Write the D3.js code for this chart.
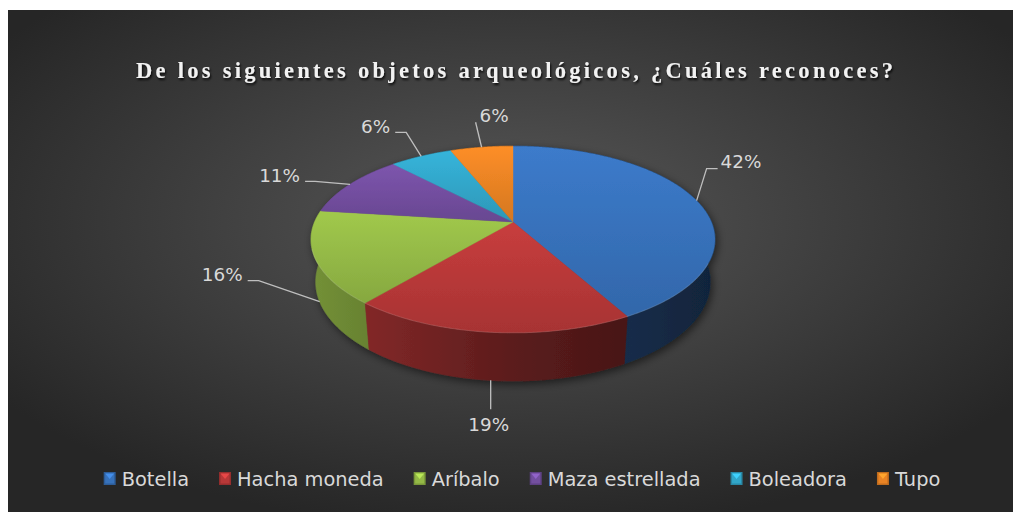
<!DOCTYPE html>
<html>
<head>
<meta charset="utf-8">
<script src="https://cdn.jsdelivr.net/npm/d3@7"></script>
<style>
  html, body { margin: 0; padding: 0; background: #ffffff; }
  svg { display: block; }
</style>
</head>
<body>
<svg id="chart" width="1013" height="512"></svg>
<script>
// ---------------- data ----------------
const title = "De los siguientes objetos arqueológicos, ¿Cuáles reconoces?";
const categories = ["Botella", "Hacha moneda", "Aríbalo", "Maza estrellada", "Boleadora", "Tupo"];
const values = [42, 19, 16, 11, 6, 6];
const valueLabels = ["42%", "19%", "16%", "11%", "6%", "6%"];
const colors = ["#3a78c5", "#c23b3b", "#9cc34a", "#7953a8", "#34afd4", "#f68a26"];

// ---------------- layout ----------------
const W = 1013, H = 512;
const svg = d3.select("#chart");
const defs = svg.append("defs");

// background
const bg = defs.append("radialGradient").attr("id", "bgGrad")
  .attr("cx", "0.5").attr("cy", "0.42").attr("r", "0.62");
bg.append("stop").attr("offset", "0").attr("stop-color", "#585858");
bg.append("stop").attr("offset", "1").attr("stop-color", "#262626");
svg.append("rect").attr("x", 8).attr("y", 10).attr("width", W - 8).attr("height", H - 10)
  .attr("fill", "url(#bgGrad)");

// filters
const ts = defs.append("filter").attr("id", "titleShadow").attr("x", "-5%").attr("y", "-50%").attr("width", "110%").attr("height", "200%");
ts.append("feDropShadow").attr("dx", 1).attr("dy", 2).attr("stdDeviation", 1.2)
  .attr("flood-color", "#000").attr("flood-opacity", 0.85);
const ps = defs.append("filter").attr("id", "pieShadow").attr("x", "-10%").attr("y", "-10%").attr("width", "120%").attr("height", "130%");
ps.append("feDropShadow").attr("dx", 2).attr("dy", 3).attr("stdDeviation", 4)
  .attr("flood-color", "#000").attr("flood-opacity", 0.55);

// title
const titleEl = svg.append("text")
  .attr("x", 136).attr("y", 78)
  .attr("font-family", "'Liberation Serif', 'Times New Roman', serif")
  .attr("font-weight", "bold").attr("font-size", 22.5)
  .attr("fill", "#f2f2f2")
  .attr("filter", "url(#titleShadow)")
  .text(title);
{
  const w0 = titleEl.node().getComputedTextLength();
  const n = title.length;
  const ls = (757 - w0) / (n - 1);
  titleEl.attr("letter-spacing", ls);
}

// ---------------- 3D pie projection ----------------
const R = 198.4, phi = 27 * Math.PI / 180, Dcam = 944, depth = 48;
const cx = 513, cy = 222;
const sinP = Math.sin(phi), cosP = Math.cos(phi);
function proj(theta, h) {
  const X = R * Math.sin(theta);
  const Y = -R * Math.cos(theta);
  const v = Y * sinP - h * cosP;
  const w = Y * cosP + h * sinP;
  const s = Dcam / (Dcam - w);
  return [cx + X * s, cy + v * s];
}
function arcPts(a0, a1, h) {
  const n = Math.max(2, Math.ceil(Math.abs(a1 - a0) / 0.01));
  const pts = [];
  for (let i = 0; i <= n; i++) pts.push(proj(a0 + (a1 - a0) * i / n, h));
  return pts;
}
const line = d3.line();

const pie = d3.pie().sort(null).startAngle(0).endAngle(2 * Math.PI);
const arcs = pie(values).map((d, i) => ({ ...d, i, mid: (d.startAngle + d.endAngle) / 2 }));

// side gradients (horizontal, lighter on left)
const sideStops = [[0, 0.74], [0.5, 0.47], [1, 0.30]];
arcs.forEach(d => {
  const c = d3.rgb(colors[d.i]);
  const g = defs.append("linearGradient").attr("id", "side" + d.i)
    .attr("gradientUnits", "userSpaceOnUse")
    .attr("x1", cx - R).attr("y1", 0).attr("x2", cx + R).attr("y2", 0);
  sideStops.forEach(([o, f]) => {
    g.append("stop").attr("offset", o)
      .attr("stop-color", d3.rgb(c.r * f, c.g * f, c.b * f).formatHex());
  });
  const t = defs.append("linearGradient").attr("id", "top" + d.i)
    .attr("x1", 0).attr("y1", 0).attr("x2", 0).attr("y2", 1);
  t.append("stop").attr("offset", 0).attr("stop-color", c.brighter(0.08).formatHex());
  t.append("stop").attr("offset", 1).attr("stop-color", c.darker(0.42).formatHex());
});

const pieG = svg.append("g").attr("filter", "url(#pieShadow)");

// sides: back to front
const sideOrder = arcs.slice().sort((a, b) => Math.cos(b.mid) - Math.cos(a.mid));
sideOrder.forEach(d => {
  const top = arcPts(d.startAngle, d.endAngle, 0);
  const bot = arcPts(d.startAngle, d.endAngle, -depth).reverse();
  pieG.append("path")
    .attr("d", line(top.concat(bot)) + "Z")
    .attr("fill", `url(#side${d.i})`)
    .attr("stroke", `url(#side${d.i})`).attr("stroke-width", 0.6);
});

// top faces
arcs.forEach(d => {
  const pts = [[cx, cy]].concat(arcPts(d.startAngle, d.endAngle, 0));
  pieG.append("path")
    .attr("d", line(pts) + "Z")
    .attr("fill", `url(#top${d.i})`)
    .attr("stroke", `url(#top${d.i})`).attr("stroke-width", 0.4);
});

// subtle highlight rim on the front edge of the top face
const kk = R * cosP / Dcam;
const silA = Math.acos(-kk);
svg.append("path")
  .attr("d", line(arcPts(silA + 0.25, 2 * Math.PI - silA - 0.1, 0)))
  .attr("fill", "none").attr("stroke", "#ffffff").attr("stroke-opacity", 0.13)
  .attr("stroke-width", 1.1);

// ---------------- data labels ----------------
const labelLayout = [
  { elbow: [10, -32], run: 11, side: "right" },
  { elbow: [0, 29], run: 0, side: "below" },
  { elbow: [-61, -21], run: -11, side: "left" },
  { elbow: [-35, -3], run: -10, side: "left" },
  { elbow: [-15, -24], run: -11, side: "left" },
  { elbow: [-6, -25], run: 0, side: "above" }
];
const labelFont = "'DejaVu Sans', Verdana, sans-serif";
arcs.forEach(d => {
  const L = labelLayout[d.i];
  const front = Math.cos(d.mid) < -kk;
  const a = proj(d.mid, front ? -depth : 0);
  const e = [a[0] + L.elbow[0], a[1] + L.elbow[1]];
  const f = [e[0] + L.run, e[1]];
  const pts = L.run !== 0 ? [a, e, f] : [a, e];
  svg.append("path").attr("d", line(pts))
    .attr("fill", "none").attr("stroke", "#bfbfbf").attr("stroke-width", 1.3);
  let tx, ty, anchor;
  if (L.side === "right") { tx = f[0] + 3; ty = f[1] - 7; anchor = "start"; }
  else if (L.side === "left") { tx = f[0] - 5; ty = f[1] - 6; anchor = "end"; }
  else if (L.side === "below") { tx = f[0] - 2; ty = f[1] + 15; anchor = "middle"; }
  else { tx = f[0] + 4; ty = f[1] - 7; anchor = "start"; }
  svg.append("text").attr("x", tx).attr("y", ty)
    .attr("dominant-baseline", "central").attr("text-anchor", anchor)
    .attr("font-family", labelFont).attr("font-size", 18.4)
    .attr("fill", "#d9d9d9").text(valueLabels[d.i]);
});

// ---------------- legend ----------------
const legendG = svg.append("g");
const legendY = 479;
let x = 0;
categories.forEach((c, i) => {
  const g = legendG.append("g");
  const col = d3.rgb(colors[i]);
  g.append("rect").attr("x", x).attr("y", legendY - 7).attr("width", 12).attr("height", 13)
    .attr("fill", col.darker(0.7).formatHex());
  g.append("rect").attr("x", x + 1.5).attr("y", legendY - 5.5).attr("width", 9).attr("height", 10)
    .attr("fill", col.darker(0.15).formatHex());
  g.append("path")
    .attr("d", `M${x + 1.5},${legendY - 5.5}L${x + 10.5},${legendY - 5.5}L${x + 6},${legendY}Z`)
    .attr("fill", col.brighter(0.5).formatHex());
  const t = g.append("text").attr("x", x + 18).attr("y", legendY)
    .attr("dominant-baseline", "central")
    .attr("font-family", labelFont).attr("font-size", 19.4)
    .attr("fill", "#d9d9d9").text(c);
  const tw = t.node().getComputedTextLength();
  x += 18 + tw + 30;
});
const totalW = x - 30;
legendG.attr("transform", `translate(${522 - totalW / 2},0)`);
</script>
</body>
</html>
